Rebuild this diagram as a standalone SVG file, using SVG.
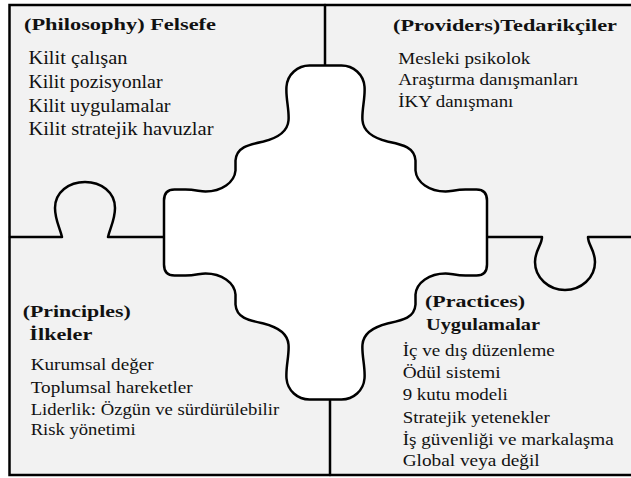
<svg xmlns="http://www.w3.org/2000/svg" width="631" height="478" viewBox="0 0 631 478">
  <style>
    .line { fill: none; stroke: #000; stroke-width: 2.5; stroke-linejoin: round; stroke-linecap: round; }
    .title { font-weight: bold; font-size: 17.5px; fill: #111; }
    .item { font-size: 17px; fill: #111; }
    .big { font-size: 18px; }
    .small { font-size: 16.5px; }
  </style>

  <rect width="631" height="478" fill="#fff"/>

  <!-- outer frame: the four quadrant pieces share one light grey field -->
  <rect id="frame" x="9.5" y="5" width="640" height="470" fill="#f2f2f2" stroke="#000" stroke-width="2.5"/>

  <g id="connectors">
    <!-- top divider -->
    <path class="line" d="M325,5 L325,66"/>
    <!-- bottom divider -->
    <path class="line" d="M330,398 L330,475"/>
    <!-- left divider with knob pointing up -->
    <path class="line" d="M10,237 L62,237 C60,228 55,220 55,208 C55,192 69,182 85,182 C101,182 115,192 115,208 C115,220 110,228 108,237 L164,237"/>
    <!-- right divider with knob pointing down -->
    <path class="line" d="M487,237 L542,237 C542,245 535,250 535,262 C535,278 549,290 565,290 C581,290 595,278 595,262 C595,250 588,245 588,237 L631,237"/>
  </g>

  <!-- central white piece -->
  <g id="center-piece" transform="translate(325.5,232.5)">
    <path fill="#fff" stroke="#000" stroke-width="2.5" stroke-linejoin="round" d="
      M0,-167 L-16,-167 C-28,-167 -38,-158 -39,-146 C-40,-135 -36,-122 -37,-112
      C-38,-100 -50,-94 -62,-91 C-76,-88 -89,-86 -90,-72 L-90,-62
      C-91,-50 -104,-41 -120,-41 C-126,-41 -130,-43 -140,-43 L-151,-43
      C-158,-43 -161.5,-39 -161.5,-32 L-161.5,32
      C-161.5,39 -158,43 -151,43 L-140,43 C-130,43 -126,41 -120,41
      C-104,41 -91,50 -90,62 L-90,72 C-89,86 -76,88 -62,91
      C-50,94 -38,100 -37,112 C-36,122 -40,135 -39,146
      C-38,158 -28,167 -16,167 L16,167
      C28,167 38,158 39,146 C40,135 36,122 37,112
      C38,100 50,94 62,91 C76,88 89,86 90,72 L90,62
      C91,50 104,41 120,41 C126,41 130,43 140,43 L151,43
      C158,43 161.5,39 161.5,32 L161.5,-32
      C161.5,-39 158,-43 151,-43 L140,-43 C130,-43 126,-41 120,-41
      C104,-41 91,-50 90,-62 L90,-72 C89,-86 76,-88 62,-91
      C50,-94 38,-100 37,-112 C36,-122 40,-135 39,-146
      C38,-158 28,-167 16,-167 Z"/>
  </g>

  <g id="philosophy" font-family="Liberation Serif, serif">
    <text class="title" x="24" y="30" textLength="192" lengthAdjust="spacingAndGlyphs">(Philosophy) Felsefe</text>
    <text class="item big" x="28.5" y="64.3" textLength="99" lengthAdjust="spacingAndGlyphs">Kilit çalışan</text>
    <text class="item big" x="28.5" y="88" textLength="134" lengthAdjust="spacingAndGlyphs">Kilit pozisyonlar</text>
    <text class="item big" x="28.5" y="111.5" textLength="142" lengthAdjust="spacingAndGlyphs">Kilit uygulamalar</text>
    <text class="item big" x="28.5" y="135" textLength="185" lengthAdjust="spacingAndGlyphs">Kilit stratejik havuzlar</text>
  </g>

  <g id="providers" font-family="Liberation Serif, serif">
    <text class="title" x="393" y="30.7" textLength="224" lengthAdjust="spacingAndGlyphs">(Providers)Tedarikçiler</text>
    <text class="item" x="398.3" y="64.3" textLength="132" lengthAdjust="spacingAndGlyphs">Mesleki psikolok</text>
    <text class="item" x="398.3" y="85" textLength="180" lengthAdjust="spacingAndGlyphs">Araştırma danışmanları</text>
    <text class="item" x="398.3" y="107.3" textLength="115" lengthAdjust="spacingAndGlyphs">İKY danışmanı</text>
  </g>

  <g id="principles" font-family="Liberation Serif, serif">
    <text class="title" x="22.7" y="317.3" textLength="108" lengthAdjust="spacingAndGlyphs">(Principles)</text>
    <text class="title" x="29.3" y="340" textLength="63" lengthAdjust="spacingAndGlyphs">İlkeler</text>
    <text class="item small" x="30.7" y="370" textLength="123" lengthAdjust="spacingAndGlyphs">Kurumsal değer</text>
    <text class="item small" x="30.7" y="393.3" textLength="162" lengthAdjust="spacingAndGlyphs">Toplumsal hareketler</text>
    <text class="item small" x="30.7" y="415" textLength="248.5" lengthAdjust="spacingAndGlyphs">Liderlik: Özgün ve sürdürülebilir</text>
    <text class="item small" x="30.7" y="435" textLength="105" lengthAdjust="spacingAndGlyphs">Risk yönetimi</text>
  </g>

  <g id="practices" font-family="Liberation Serif, serif">
    <text class="title" x="425" y="307.3" textLength="100" lengthAdjust="spacingAndGlyphs">(Practices)</text>
    <text class="title" x="426" y="330" textLength="114" lengthAdjust="spacingAndGlyphs">Uygulamalar</text>
    <text class="item" x="402.7" y="356" textLength="152" lengthAdjust="spacingAndGlyphs">İç ve dış düzenleme</text>
    <text class="item" x="402.7" y="378.3" textLength="98" lengthAdjust="spacingAndGlyphs">Ödül sistemi</text>
    <text class="item" x="402.7" y="400" textLength="105" lengthAdjust="spacingAndGlyphs">9 kutu modeli</text>
    <text class="item" x="402.7" y="422.7" textLength="147" lengthAdjust="spacingAndGlyphs">Stratejik yetenekler</text>
    <text class="item" x="402.7" y="445" textLength="211" lengthAdjust="spacingAndGlyphs">İş güvenliği ve markalaşma</text>
    <text class="item" x="402.7" y="465.5" textLength="137" lengthAdjust="spacingAndGlyphs">Global veya değil</text>
  </g>
</svg>
